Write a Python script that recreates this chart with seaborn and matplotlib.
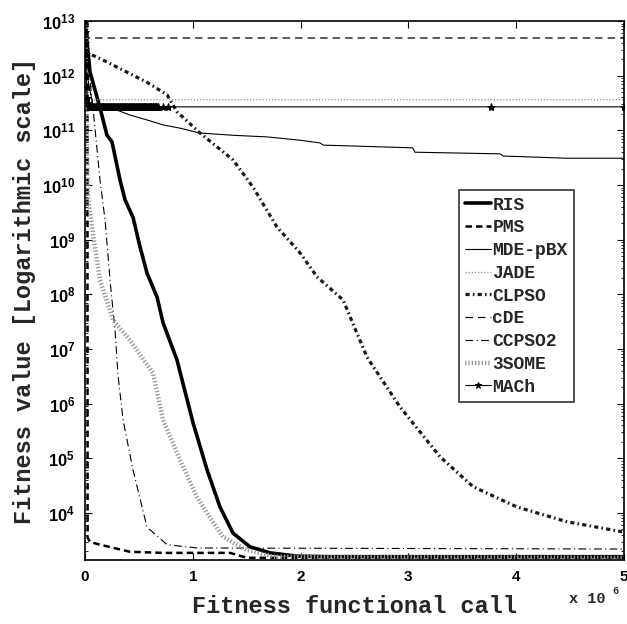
import numpy as np
import pandas as pd
import matplotlib
matplotlib.use("Agg")
import matplotlib.pyplot as plt
from matplotlib.ticker import FixedLocator, FuncFormatter, LogLocator, NullFormatter
import seaborn as sns

# Fitness functional calls in units of 10^6, fitness as log10(value)
ris_calls = [0, 0.046, 0.139, 0.204, 0.25, 0.325, 0.371, 0.445, 0.51, 0.575, 0.668,
             0.724, 0.853, 1.002, 1.132, 1.252, 1.373, 1.531, 1.716, 1.967, 2.27, 5.0]
ris_log = [13.0, 12.07, 11.41, 10.91, 10.79, 10.09, 9.73, 9.41, 8.87, 8.39, 7.95,
           7.48, 6.80, 5.65, 4.79, 4.11, 3.63, 3.38, 3.27, 3.21, 3.20, 3.20]

pms_calls = [0.022, 0.024, 0.046, 0.139, 0.417, 0.724, 1.345, 1.50, 5.0]
pms_log = [13.0, 3.55, 3.47, 3.42, 3.29, 3.27, 3.27, 3.18, 3.18]

mde_calls = [0, 0.02, 0.07, 0.297, 0.417, 0.575, 0.724, 0.881, 1.067, 1.373, 1.688,
             1.994, 2.18, 2.21, 3.04, 3.06, 3.85, 3.88, 4.47, 5.0]
mde_log = [13.0, 12.0, 11.48, 11.37, 11.28, 11.19, 11.10, 11.04, 10.95, 10.91, 10.88,
           10.82, 10.77, 10.73, 10.68, 10.60, 10.57, 10.53, 10.49, 10.49]

jade_calls = [0, 0.01, 0.03, 5.0]
jade_log = [13.0, 12.0, 11.56, 11.56]

clpso_calls = [0.065, 0.204, 0.353, 0.575, 0.761, 0.853, 1.067, 1.373, 1.559, 1.781,
               1.994, 2.152, 2.393, 2.616, 2.922, 3.293, 3.6, 4.007, 4.47, 5.0]
clpso_log = [12.38, 12.25, 12.10, 11.88, 11.65, 11.34, 10.95, 10.46, 9.96, 9.23,
             8.76, 8.32, 7.90, 6.85, 5.94, 5.03, 4.48, 4.11, 3.84, 3.65]

cde_calls = [0, 0.02, 5.0]
cde_log = [13.0, 12.69, 12.69]

ccpso2_calls = [0, 0.046, 0.074, 0.139, 0.186, 0.232, 0.278, 0.306, 0.353, 0.445,
                0.575, 0.761, 1.039, 5.0]
ccpso2_log = [13.0, 11.92, 11.41, 10.09, 9.36, 8.26, 7.35, 6.52, 5.70, 4.79,
              3.74, 3.42, 3.36, 3.34]

some3_calls = [0, 0.009, 0.028, 0.083, 0.139, 0.26, 0.417, 0.631, 0.724, 0.881,
               1.039, 1.132, 1.28, 1.503, 1.744, 5.0]
some3_log = [13.0, 11.55, 9.78, 8.99, 8.26, 7.53, 7.16, 6.56, 5.70, 4.97,
             4.29, 4.0, 3.56, 3.32, 3.20, 3.18]

# MACh logs very often during its first phase, then only a few times
mach_start_calls = [0, 0.002, 0.004, 0.006, 0.008, 0.010, 0.015, 0.020, 0.030, 0.040]
mach_start_log = [13.0, 12.8, 12.6, 12.4, 12.2, 12.0, 11.8, 11.6, 11.5, 11.45]
mach_plateau_log = 11.43
mach_dense_calls = np.arange(0.045, 0.685, 0.006)
mach_tail_calls = [0.72, 0.77, 3.77, 5.0]

mach_calls = list(mach_start_calls) + list(mach_dense_calls) + mach_tail_calls
mach_log = mach_start_log + [mach_plateau_log] * (len(mach_dense_calls) + len(mach_tail_calls))

series = [
    ("RIS", ris_calls, ris_log, dict(color="black", linewidth=2.6, linestyle="-")),
    ("PMS", pms_calls, pms_log, dict(color="black", linewidth=1.8, linestyle=(0, (2.6, 1.6)))),
    ("MDE-pBX", mde_calls, mde_log, dict(color="black", linewidth=0.8, linestyle="-")),
    ("JADE", jade_calls, jade_log, dict(color="0.55", linewidth=0.9, linestyle=(0, (1, 1.5)))),
    ("CLPSO", clpso_calls, clpso_log, dict(color="0.1", linewidth=2.3, linestyle=(0, (1.3, 1.0, 0.5, 1.0)))),
    ("cDE", cde_calls, cde_log, dict(color="black", linewidth=0.9, linestyle=(0, (6, 4)))),
    ("CCPSO2", ccpso2_calls, ccpso2_log, dict(color="black", linewidth=0.8, linestyle=(0, (7, 3, 1, 3)))),
    ("3SOME", some3_calls, some3_log, dict(color="0.6", linewidth=3.2, linestyle=(0, (0.3, 0.45)))),
    ("MACh", mach_calls, mach_log, dict(color="black", linewidth=0.8, linestyle="-",
                                        marker="*", markersize=6, markeredgewidth=0.7,
                                        markeredgecolor="black", markerfacecolor="black")),
]

sns.set_theme(style="ticks")
plt.rcParams.update({
    "font.family": ["Liberation Mono", "DejaVu Sans"],
    "font.weight": "bold",
    "mathtext.fontset": "custom",
    "mathtext.bf": "Liberation Sans:bold",
    "mathtext.rm": "Liberation Sans:bold",
    "axes.edgecolor": "black",
    "axes.linewidth": 1.2,
    "xtick.color": "black",
    "ytick.color": "black",
})

fig, ax = plt.subplots(figsize=(6.27, 6.24), dpi=100)
fig.subplots_adjust(left=0.1356, right=0.9952, bottom=0.1026, top=0.9663)
ax.set_yscale("log")

for name, calls, logs, style in series:
    df = pd.DataFrame({"calls": calls, "fitness": 10.0 ** np.asarray(logs, dtype=float)})
    sns.lineplot(data=df, x="calls", y="fitness", ax=ax, estimator=None, sort=False,
                 label=name, **style)

ax.set_xlim(0, 5)
ax.set_ylim(10 ** 3.14, 1e13)

ax.xaxis.set_major_locator(FixedLocator([0, 1, 2, 3, 4, 5]))
ax.xaxis.set_major_formatter(FuncFormatter(lambda v, p: f"{v:.0f}"))
ax.yaxis.set_major_locator(FixedLocator([10.0 ** e for e in range(4, 14)]))
ax.yaxis.set_major_formatter(FuncFormatter(lambda v, p: r"$\mathbf{10^{%d}}$" % round(np.log10(v))))
ax.yaxis.set_minor_locator(LogLocator(base=10, subs=np.arange(2, 10), numticks=30))
ax.yaxis.set_minor_formatter(NullFormatter())

ax.tick_params(axis="both", which="both", direction="in", top=True, right=True)
ax.tick_params(axis="both", which="major", length=5, width=0.8, labelsize=11, pad=7)
ax.tick_params(axis="y", which="major", labelsize=12)
ax.tick_params(axis="y", which="minor", length=2.5, width=0.6)
for lab in ax.get_xticklabels():
    lab.set_family("Liberation Sans")
    lab.set_fontweight("bold")

ax.set_xlabel("Fitness functional call", fontsize=17, fontweight="bold", labelpad=8)
ax.set_ylabel("Fitness value [Logarithmic scale]", fontsize=17, fontweight="bold", labelpad=4)

ax.text(0.898, -0.072, "x 10", transform=ax.transAxes, fontsize=11, fontweight="bold",
        ha="left", va="center")
ax.text(0.978, -0.057, "6", transform=ax.transAxes, fontsize=7.5, fontweight="bold",
        ha="left", va="center")

handles, labels = ax.get_legend_handles_labels()
leg = ax.legend(handles, labels, loc="upper left", bbox_to_anchor=(0.694, 0.686),
                fontsize=13, frameon=True, fancybox=False, edgecolor="black",
                handlelength=1.4, handletextpad=0.1, labelspacing=0.32,
                borderpad=0.35, borderaxespad=0, markerscale=0.8)
leg.get_frame().set_linewidth(1.2)
for t in leg.get_texts():
    t.set_fontweight("bold")

fig.savefig("out.png", dpi=100, facecolor="white")
